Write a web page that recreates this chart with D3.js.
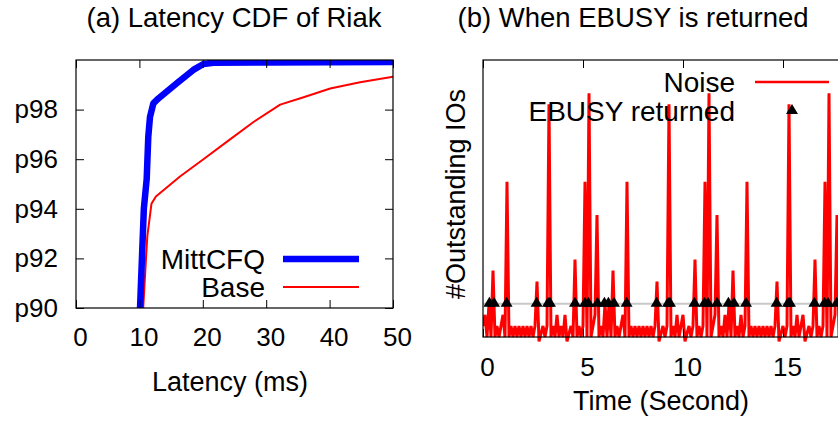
<!DOCTYPE html>
<html>
<head>
<meta charset="utf-8">
<script src="https://cdn.jsdelivr.net/npm/d3@7"></script>
<style>
  html, body { margin: 0; padding: 0; background: #fff; }
  svg { display: block; }
  text { font-family: "Liberation Sans", Arial, Helvetica, sans-serif; fill: #000; }
</style>
</head>
<body>
<svg id="chart" width="838" height="425"></svg>
<script>
// ---- (a) latency CDF of Riak ----
const mittLatency    = [10.1, 10.7, 11.15, 11.4, 11.67, 12.2, 13.0, 15.9, 18.5, 20.1, 21.7, 30, 50];
const mittPercentile = [90, 94, 95.2, 96.9, 97.7, 98.25, 98.45, 99.06, 99.6, 99.84, 99.89, 99.9, 99.92];
const baseLatency    = [10.6, 11.04, 11.25, 11.9, 12.6, 16.4, 20.1, 24.3, 28, 32.2, 35.9, 40.1, 44.8, 50];
const basePercentile = [90, 92, 92.9, 94.2, 94.5, 95.3, 96.0, 96.8, 97.5, 98.2, 98.5, 98.85, 99.1, 99.33];
const latencyTicks = [0, 10, 20, 30, 40, 50];
const percentileTicks = [90, 92, 94, 96, 98];
const percentileLabels = ["p90", "p92", "p94", "p96", "p98"];

// ---- (b) outstanding IOs over time, sampled every 0.1 s ----
const noiseStep = 0.1;
const noiseCounts = [
  1, 2, 0, 3, 0, 6, 0, 1, 0, 1,
  2, 0, 14, 0, 1, 0, 1, 0, 1, 0,
  1, 0, 1, 0, 1, 0, 1, 5, -0.4, 0.3,
  1, 0, 1, 21, 0, 1, 0, 2, 0, 1,
  0, 2, -0.4, 0.3, 1, 0, 7, 0, 1, 0,
  1, 14, 0, 22, 0, 1, 2, 11, 0, 1,
  0, 3, 0, 3, 0, 6, 0, 1, 0, 1,
  2, 0, 14, 0, 1, 0, 1, 0, 1, 0,
  1, 0, 1, 0, 1, 0, 1, 5, -0.4, 0.3,
  1, 0, 1, 21, 0, 1, 0, 2, 0, 1,
  2, -0.4, 0.3, 1, 0, 1, 7, 0, 1, 0,
  1, 14, 0, 22, 0, 1, 2, 11, 0, 1,
  0, 2, 0, 3, 0, 6, 0, 1, 0, 2,
  0, 1, 14, 0, 1, 0, 1, 0, 1, 0,
  1, 0, 1, 0, 1, 0, 1, 5, -0.4, 0.3,
  1, 0, 1, 21, 0, 1, 0, 2, 0, 1,
  2, -0.4, 0.3, 1, 0, 1, 7, 0, 1, 0,
  1, 14, 0, 22, 0, 1, 2, 11, 0, 1,
  0
];
const ebusyTimes = [0.32, 0.55, 1.18, 2.68, 3.25, 3.35, 4.6, 5.1, 5.27, 5.72, 6.07, 6.27, 6.55, 7.18,
                    8.68, 9.25, 9.35, 10.57, 11.07, 11.25, 11.7, 12.27, 12.55, 13.15,
                    14.68, 15.25, 15.35, 16.57, 17.07, 17.25, 17.68];
const ebusyThreshold = 3;
const timeTicks = [0, 5, 10, 15];

const svg = d3.select("#chart");
const black = "#000";
const tickLen = 8;
const tickFont = 26;
const labelFont = 27;
const titleFont = 27.5;
const legendFont = 28;

// ===== Panel (a) =====
const ax = d3.scaleLinear().domain([0, 50]).range([76, 393]);
const ay = d3.scaleLinear().domain([90, 100]).range([308, 60]);
const pa = svg.append("g");

pa.append("defs").append("clipPath").attr("id", "clipA")
  .append("rect").attr("x", ax(0)).attr("y", ay(100)).attr("width", ax(50) - ax(0)).attr("height", ay(90) - ay(100));

const lineA = d3.line().x(d => ax(d[0])).y(d => ay(d[1]));
const baseData = d3.zip(baseLatency, basePercentile);
const mittData = d3.zip(mittLatency, mittPercentile);

pa.append("path").attr("d", lineA(baseData)).attr("clip-path", "url(#clipA)")
  .attr("fill", "none").attr("stroke", "#ff0000").attr("stroke-width", 2).attr("stroke-linejoin", "round");
pa.append("path").attr("d", lineA(mittData)).attr("clip-path", "url(#clipA)")
  .attr("fill", "none").attr("stroke", "#0000ff").attr("stroke-width", 6.5).attr("stroke-linejoin", "round");

// axes with inward ticks on all four sides
const axBottom = d3.axisBottom(ax).tickValues(latencyTicks).tickSize(-tickLen).tickPadding(20);
const axTop = d3.axisTop(ax).tickValues(latencyTicks).tickSize(-tickLen).tickFormat("");
const ayLeft = d3.axisLeft(ay).tickValues(percentileTicks).tickSize(-tickLen).tickPadding(18)
  .tickFormat((d, i) => percentileLabels[i]);
const ayRight = d3.axisRight(ay).tickValues(percentileTicks).tickSize(-tickLen).tickFormat("");

function styleAxis(g, fontSize) {
  g.select(".domain").remove();
  g.selectAll(".tick line").attr("stroke", black).attr("stroke-width", 1);
  g.selectAll(".tick text").attr("font-size", fontSize).attr("fill", black)
    .style("font-family", "'Liberation Sans', Arial, sans-serif");
}
pa.append("g").attr("transform", `translate(0,${ay(90)})`).call(axBottom)
  .call(g => styleAxis(g, tickFont)).call(g => g.selectAll(".tick text").attr("dx", 4));
pa.append("g").attr("transform", `translate(0,${ay(100)})`).call(axTop).call(g => styleAxis(g, tickFont));
pa.append("g").attr("transform", `translate(${ax(0)},0)`).call(ayLeft).call(g => styleAxis(g, tickFont));
pa.append("g").attr("transform", `translate(${ax(50)},0)`).call(ayRight).call(g => styleAxis(g, tickFont));

pa.append("rect").attr("x", ax(0)).attr("y", ay(100)).attr("width", ax(50) - ax(0)).attr("height", ay(90) - ay(100))
  .attr("fill", "none").attr("stroke", black).attr("stroke-width", 1.2);

// legend
const legA = [{ name: "MittCFQ", color: "#0000ff", w: 6.5, y: 259 }, { name: "Base", color: "#ff0000", w: 2, y: 287 }];
legA.forEach(l => {
  pa.append("text").attr("x", 265).attr("y", l.y).attr("dy", "0.36em").attr("text-anchor", "end")
    .attr("font-size", legendFont).text(l.name);
  pa.append("line").attr("x1", 283).attr("x2", 359).attr("y1", l.y).attr("y2", l.y)
    .attr("stroke", l.color).attr("stroke-width", l.w);
});

pa.append("text").attr("x", 234).attr("y", 27).attr("text-anchor", "middle").attr("font-size", titleFont)
  .text("(a) Latency CDF of Riak");
pa.append("text").attr("x", 230).attr("y", 391).attr("text-anchor", "middle").attr("font-size", labelFont)
  .text("Latency (ms)");

// ===== Panel (b) =====
const bx = d3.scaleLinear().domain([0, 20]).range([483, 883]);
const by = d3.scaleLinear().domain([0, 25]).range([337, 60]);
const pb = svg.append("g");

pb.append("defs").append("clipPath").attr("id", "clipB")
  .append("rect").attr("x", bx(0)).attr("y", by(25)).attr("width", bx(20) - bx(0)).attr("height", by(0) - by(25) + 5);

// threshold line at which EBUSY is returned
pb.append("line").attr("x1", bx(0)).attr("x2", bx(20)).attr("y1", by(ebusyThreshold)).attr("y2", by(ebusyThreshold))
  .attr("stroke", "#c8c8c8").attr("stroke-width", 2);

const noiseData = noiseCounts.map((v, i) => [i * noiseStep, v]);
const lineB = d3.line().x(d => bx(d[0])).y(d => by(d[1]));
pb.append("path").attr("d", lineB(noiseData)).attr("clip-path", "url(#clipB)")
  .attr("fill", "none").attr("stroke", "#ff0000").attr("stroke-width", 3).attr("stroke-linejoin", "miter");

const tri = "M0,-7L6,3L-6,3Z";
pb.selectAll("path.ebusy").data(ebusyTimes).join("path").attr("class", "ebusy")
  .attr("d", tri).attr("fill", black)
  .attr("transform", d => `translate(${bx(d)},${by(ebusyThreshold)})`);

const bxBottom = d3.axisBottom(bx).tickValues(timeTicks).tickSize(-tickLen).tickPadding(21);
const bxTop = d3.axisTop(bx).tickValues(timeTicks).tickSize(-tickLen).tickFormat("");
pb.append("g").attr("transform", `translate(0,${by(0)})`).call(bxBottom)
  .call(g => styleAxis(g, tickFont)).call(g => g.selectAll(".tick text").attr("dx", 4));
pb.append("g").attr("transform", `translate(0,${by(25)})`).call(bxTop).call(g => styleAxis(g, tickFont));

pb.append("rect").attr("x", bx(0)).attr("y", by(25)).attr("width", bx(20) - bx(0)).attr("height", by(0) - by(25))
  .attr("fill", "none").attr("stroke", black).attr("stroke-width", 1.2);

// legend
pb.append("text").attr("x", 735).attr("y", 82).attr("dy", "0.36em").attr("text-anchor", "end").attr("font-size", legendFont).text("Noise");
pb.append("line").attr("x1", 755).attr("x2", 829).attr("y1", 82).attr("y2", 82).attr("stroke", "#ff0000").attr("stroke-width", 2.5);
pb.append("text").attr("x", 735).attr("y", 111).attr("dy", "0.36em").attr("text-anchor", "end").attr("font-size", legendFont).text("EBUSY returned");
pb.append("path").attr("d", tri).attr("fill", black).attr("transform", "translate(792,111)");

pb.append("text").attr("x", 633).attr("y", 27).attr("text-anchor", "middle").attr("font-size", titleFont)
  .text("(b) When EBUSY is returned");
pb.append("text").attr("x", 661).attr("y", 410).attr("text-anchor", "middle").attr("font-size", labelFont)
  .text("Time (Second)");
pb.append("text").attr("transform", "translate(465,194) rotate(-90)").attr("text-anchor", "middle").attr("font-size", labelFont)
  .text("#Outstanding IOs");
</script>
</body>
</html>
